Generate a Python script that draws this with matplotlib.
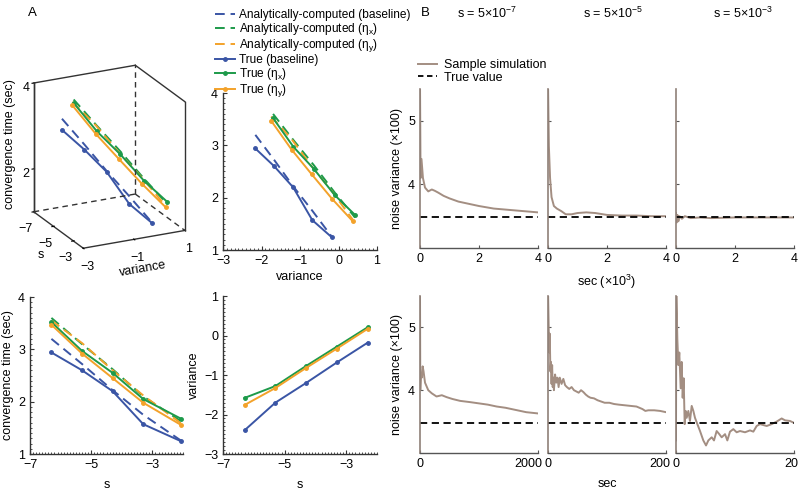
import matplotlib
matplotlib.use("Agg")
import matplotlib.pyplot as plt
import matplotlib.transforms as mtrans
import numpy as np
from matplotlib.lines import Line2D
from matplotlib.ticker import MultipleLocator

plt.rcParams['font.family'] = ['Liberation Sans', 'DejaVu Sans']
plt.rcParams['mathtext.fontset'] = 'custom'
plt.rcParams['mathtext.rm'] = 'Liberation Sans'
plt.rcParams['mathtext.it'] = 'Liberation Sans:italic'
plt.rcParams['font.size'] = 8.5

# ---------------- data: panel A ----------------
s_vals = [-6.3, -5.3, -4.3, -3.3, -2.3]          # s positions (variance-vs-s, 3D)
s_vals_time = [-6.3, -5.3, -4.3, -3.3, -2.05]    # s positions as drawn in time-vs-s
# convergence time (sec)
time_true_base = [2.94, 2.60, 2.20, 1.57, 1.24]
time_true_x = [3.52, 2.97, 2.55, 2.05, 1.67]
time_true_y = [3.47, 2.92, 2.45, 1.98, 1.55]
time_ana_base = [3.20, 2.72, 2.22, 1.75, 1.25]
time_ana_x = [3.60, 3.10, 2.62, 2.10, 1.62]
time_ana_y = [3.55, 3.12, 2.60, 2.12, 1.58]
# variance (as in the variance-vs-s panel)
var_true_base = [-2.40, -1.70, -1.20, -0.68, -0.18]
var_true_x = [-1.58, -1.28, -0.77, -0.28, 0.21]
var_true_y = [-1.76, -1.33, -0.82, -0.33, 0.17]
# variance (as in the time-vs-variance panel and the 3D panel)
var_tv_base = [-2.16, -1.67, -1.18, -0.68, -0.17]
var_tv_x = [-1.70, -1.17, -0.64, -0.10, 0.43]
var_tv_y = [-1.75, -1.22, -0.70, -0.17, 0.37]

# ---------------- data: panel B ----------------
true_value = 3.48
titles_B = ['s = 5×10$^{-7}$', 's = 5×10$^{-5}$', 's = 5×10$^{-3}$']
# long runs (sec x 10^3)
long1_t = [0, 0.02, 0.05, 0.1, 0.17, 0.28, 0.4, 0.5, 0.62, 0.8, 1.0, 1.3, 1.6, 2.0, 2.5, 3.0, 3.5, 4.0]
long1_v = [5.6, 4.1, 4.4, 4.1, 3.95, 3.89, 3.92, 3.9, 3.87, 3.82, 3.78, 3.73, 3.70, 3.66, 3.62, 3.60, 3.58, 3.56]
long2_t = [0, 0.03, 0.07, 0.12, 0.2, 0.3, 0.45, 0.6, 0.8, 1.0, 1.3, 1.6, 2.0, 2.5, 3.0, 3.5, 4.0]
long2_v = [5.6, 4.6, 4.1, 3.8, 3.66, 3.62, 3.58, 3.53, 3.53, 3.55, 3.56, 3.55, 3.52, 3.51, 3.51, 3.50, 3.50]
long3_t = [0, 0.02, 0.05, 0.08, 0.12, 0.2, 0.3, 0.5, 0.8, 1.2, 2.0, 3.0, 4.0]
long3_v = [3.55, 3.40, 3.52, 3.42, 3.50, 3.46, 3.50, 3.47, 3.48, 3.47, 3.48, 3.48, 3.48]
# short runs (sec)
short1_t = [0, 5, 15, 30, 45, 60, 85, 140, 200, 280, 370, 450, 550, 680, 850, 1000, 1150, 1300, 1450, 1600, 1800, 2000]
short1_v = [5.6, 4.0, 4.25, 4.2, 4.38, 4.3, 4.12, 4.0, 3.95, 3.9, 3.92, 3.89, 3.86, 3.83, 3.81, 3.79, 3.77, 3.74, 3.72, 3.69, 3.65, 3.63]
short2_t = [0, 1, 2, 3, 4, 5, 6, 7, 8, 9, 10, 12, 14, 16, 18, 20, 23, 26, 29, 32, 36, 40, 44, 48, 52, 56, 60, 64, 68, 72, 78, 84, 90, 96, 104, 112, 120, 130, 140, 150, 160, 165, 170, 180, 190, 200]
short2_v = [5.6, 5.1, 4.6, 4.9, 4.3, 4.45, 4.1, 4.4, 4.05, 4.2, 4.0, 4.25, 4.12, 4.2, 4.05, 4.2, 4.1, 4.18, 4.08, 4.05, 4.02, 4.05, 4.0, 3.98, 3.96, 4.0, 3.97, 3.93, 3.9, 3.88, 3.87, 3.84, 3.82, 3.8, 3.8, 3.78, 3.77, 3.76, 3.75, 3.74, 3.7, 3.67, 3.68, 3.68, 3.67, 3.65]
short3_t = [0, 0.05, 0.23, 0.4, 0.56, 0.79, 0.96, 1.13, 1.3, 1.47, 1.64, 1.81, 2.09, 2.37, 2.66, 2.94, 3.22, 3.62, 4.07, 4.63, 5.09, 5.48, 6.05, 6.44, 6.89, 7.34, 7.74, 8.31, 8.7, 9.15, 9.72, 10.28, 10.85, 11.7, 12.54, 13.11, 13.67, 14.24, 15.37, 16.22, 17.06, 17.91, 18.48, 19.32, 20]
short3_v = [3.2, 5.6, 4.81, 4.4, 4.6, 4.03, 4.45, 3.88, 4.19, 3.46, 3.67, 3.56, 3.67, 3.51, 3.75, 3.67, 3.56, 3.46, 3.35, 3.2, 3.12, 3.2, 3.25, 3.2, 3.35, 3.3, 3.25, 3.3, 3.2, 3.34, 3.38, 3.33, 3.35, 3.33, 3.36, 3.34, 3.43, 3.46, 3.43, 3.46, 3.5, 3.55, 3.52, 3.51, 3.48]

C_BLUE = '#3a55a5'
C_GREEN = '#1d9a4a'
C_ORANGE = '#f3a22a'
C_BROWN = '#a38e82'
C_AX = '#333333'

fig = plt.figure(figsize=(8, 4.9), dpi=100)

def W(px):
    return px / 800.0

def H(px):
    return px / 490.0

def add_ax(l, t, r, b, **kw):
    return fig.add_axes([W(l), 1 - H(b), W(r - l), H(b - t)], **kw)

series = [
    ('ana', 'base', C_BLUE), ('ana', 'x', C_GREEN), ('ana', 'y', C_ORANGE),
    ('true', 'base', C_BLUE), ('true', 'x', C_GREEN), ('true', 'y', C_ORANGE),
]
time_d = {('true', 'base'): time_true_base, ('true', 'x'): time_true_x, ('true', 'y'): time_true_y,
          ('ana', 'base'): time_ana_base, ('ana', 'x'): time_ana_x, ('ana', 'y'): time_ana_y}
var_vs = {'base': var_true_base, 'x': var_true_x, 'y': var_true_y}
var_tv = {'base': var_tv_base, 'x': var_tv_x, 'y': var_tv_y}

def style(kind, c):
    if kind == 'ana':
        return dict(color=c, ls=(0, (5, 3)), lw=1.4)
    return dict(color=c, ls='-', lw=1.4, marker='o', ms=2.5)

def style2d(ax):
    for sp in ['top', 'right']:
        ax.spines[sp].set_visible(False)
    for sp in ['left', 'bottom']:
        ax.spines[sp].set_color(C_AX)
        ax.spines[sp].set_linewidth(1.0)
    ax.tick_params(which='both', direction='in', colors=C_AX, labelcolor='black', labelsize=9)
    ax.tick_params(which='major', length=3, width=0.8)
    ax.tick_params(which='minor', length=1.5, width=0.6)

# ---- top middle: time vs variance
ax_tv = add_ax(223, 93, 377, 250)
for kind, key, c in series:
    ax_tv.plot(var_tv[key], time_d[(kind, key)], **style(kind, c))
ax_tv.set_xlim(-3, 1)
ax_tv.set_ylim(1, 4)
ax_tv.set_xticks([-3, -2, -1, 0, 1])
ax_tv.set_yticks([1, 2, 3, 4])
ax_tv.xaxis.set_minor_locator(MultipleLocator(0.1))
ax_tv.yaxis.set_minor_locator(MultipleLocator(0.1))
ax_tv.set_xlabel('variance', fontsize=9, labelpad=3)
ax_tv.set_ylabel('convergence time (sec)', fontsize=9, labelpad=3)
style2d(ax_tv)

# ---- bottom left: time vs s
ax_ts = add_ax(30, 297, 183, 454)
for kind, key, c in series:
    ax_ts.plot(s_vals_time, time_d[(kind, key)], **style(kind, c))
ax_ts.set_xlim(-7, -2)
ax_ts.set_ylim(1, 4)
ax_ts.set_xticks([-7, -5, -3])
ax_ts.set_yticks([1, 2, 3, 4])
ax_ts.xaxis.set_minor_locator(MultipleLocator(0.1))
ax_ts.yaxis.set_minor_locator(MultipleLocator(0.1))
ax_ts.set_xlabel('s', fontsize=9, labelpad=6)
ax_ts.set_ylabel('convergence time (sec)', fontsize=9, labelpad=3)
style2d(ax_ts)

# ---- bottom middle: variance vs s
ax_vs = add_ax(223, 296, 377, 454)
for kind, key, c in series:
    if kind == 'true':
        ax_vs.plot(s_vals, var_vs[key], **style(kind, c))
ax_vs.set_xlim(-7, -2)
ax_vs.set_ylim(-3, 1)
ax_vs.set_xticks([-7, -5, -3])
ax_vs.set_yticks([-3, -2, -1, 0, 1])
ax_vs.xaxis.set_minor_locator(MultipleLocator(0.1))
ax_vs.yaxis.set_minor_locator(MultipleLocator(0.1))
ax_vs.set_xlabel('s', fontsize=9, labelpad=6)
ax_vs.set_ylabel('variance', fontsize=9, labelpad=3)
style2d(ax_vs)

# ---- 3D panel
ax3 = fig.add_axes([W(3), 1 - H(262), W(207), H(205)], projection='3d')
ax3.set_proj_type('ortho')
ax3.view_init(elev=21, azim=-26)
ax3.set_box_aspect((1, 1, 1.22))
for kind, key, c in series:
    ax3.plot(s_vals, var_tv[key], time_d[(kind, key)], **style(kind, c))
ax3.set_xlim(-7, -2)
ax3.set_ylim(-3, 1)
ax3.set_zlim(1, 4)
ax3.set_xticks([-7, -5, -3])
ax3.set_yticks([-3, -1, 1])
ax3.set_zticks([2, 4])
ax3.grid(False)
for a in (ax3.xaxis, ax3.yaxis, ax3.zaxis):
    a.set_pane_color((1, 1, 1, 0))
    a.line.set_color(C_AX)
    a.line.set_linewidth(1.0)
ax3.zaxis.set_ticks_position('lower')
ax3.zaxis.set_label_position('lower')
ax3.tick_params(axis='x', labelsize=9, pad=-2)
ax3.tick_params(axis='y', labelsize=9, pad=-2)
ax3.tick_params(axis='z', labelsize=9, pad=-4)
ax3.set_xlabel('s', fontsize=9, labelpad=-8)
ax3.set_ylabel('variance', fontsize=9, labelpad=-7)
ax3.set_zlabel('convergence time (sec)', fontsize=9, labelpad=-9)
x0, x1 = ax3.get_xlim(); y0, y1 = ax3.get_ylim(); z0, z1 = ax3.get_zlim()
edge = dict(color=C_AX, lw=1.0)
ax3.plot([x0, x0], [y0, y1], [z1, z1], **edge)
ax3.plot([x0, x1], [y1, y1], [z1, z1], **edge)
ax3.plot([x1, x1], [y1, y1], [z0, z1], **edge)
ax3.plot([x0, x0], [y0, y0], [z0, z1], **edge)
dash = dict(color=C_AX, lw=1.0, ls=(0, (4, 3)))
ax3.plot([x0, x0], [y1, y1], [z0, z1], **dash)
ax3.plot([x0, x0], [y0, y1], [z0, z0], **dash)
ax3.plot([x0, x1], [y1, y1], [z0, z0], **dash)

# ---- legend A
handles_A = [
    Line2D([], [], **style('ana', C_BLUE)), Line2D([], [], **style('ana', C_GREEN)),
    Line2D([], [], **style('ana', C_ORANGE)), Line2D([], [], **style('true', C_BLUE)),
    Line2D([], [], **style('true', C_GREEN)), Line2D([], [], **style('true', C_ORANGE)),
]
labels_A = ['Analytically-computed (baseline)', 'Analytically-computed (η$_\\mathregular{x}$)',
            'Analytically-computed (η$_\\mathregular{y}$)', 'True (baseline)',
            'True (η$_\\mathregular{x}$)', 'True (η$_\\mathregular{y}$)']
fig.legend(handles_A, labels_A, loc='upper left', bbox_to_anchor=(W(215), 1 - H(9)),
           frameon=False, fontsize=8.6, handlelength=1.7, handletextpad=0.35,
           labelspacing=0.0, borderpad=0, borderaxespad=0)

# ---- panel B
long_runs = [(long1_t, long1_v), (long2_t, long2_v), (long3_t, long3_v)]
short_runs = [(short1_t, short1_v), (short2_t, short2_v), (short3_t, short3_v)]
short_xmax = [2000, 200, 20]
lefts = [420, 548, 676]

def styleB(ax, first):
    for sp in ['top', 'right']:
        ax.spines[sp].set_visible(False)
    ax.spines['left'].set_color('#8f8078')
    ax.spines['left'].set_linewidth(1.2)
    ax.spines['bottom'].set_color('#555555')
    ax.spines['bottom'].set_linewidth(1.0)
    ax.tick_params(direction='in', length=2, width=0.8, colors='#555555', labelcolor='black', labelsize=9)
    ax.set_ylim(3, 5.5)
    ax.set_yticks([4, 5])
    if not first:
        ax.set_yticklabels([])

axes_top = []
for i in range(3):
    ax = add_ax(lefts[i], 89, lefts[i] + 118, 248)
    t, v = long_runs[i]
    ax.plot(t, v, color=C_BROWN, lw=1.4, clip_on=True)
    ax.axhline(true_value, color='black', lw=1.3, ls=(0, (4, 2.5)))
    ax.set_xlim(0, 4)
    ax.set_xticks([0, 2, 4])
    styleB(ax, i == 0)
    axes_top.append(ax)
axes_top[0].set_ylabel('noise variance (×100)', fontsize=9, labelpad=4)
axes_top[1].set_xlabel('sec (×10$^{3}$)', fontsize=9, labelpad=6)

axes_bot = []
for i in range(3):
    ax = add_ax(lefts[i], 296, lefts[i] + 118, 453)
    t, v = short_runs[i]
    ax.plot(t, v, color=C_BROWN, lw=1.4)
    ax.axhline(true_value, color='black', lw=1.3, ls=(0, (4, 2.5)))
    ax.set_xlim(0, short_xmax[i])
    ax.set_xticks([0, short_xmax[i]])
    styleB(ax, i == 0)
    lab = ax.get_xticklabels()[-1]
    lab.set_horizontalalignment('right')
    lab.set_transform(lab.get_transform() + mtrans.ScaledTranslation(3 / 72, 0, fig.dpi_scale_trans))
    axes_bot.append(ax)
axes_bot[0].set_ylabel('noise variance (×100)', fontsize=9, labelpad=4)
axes_bot[1].set_xlabel('sec', fontsize=9, labelpad=6)

for i in range(3):
    fig.text(W([487, 613, 743][i]), 1 - H(13), titles_B[i], ha='center', va='center', fontsize=9)

handles_B = [Line2D([], [], color=C_BROWN, lw=1.4),
             Line2D([], [], color='black', lw=1.3, ls=(0, (3, 2)))]
fig.legend(handles_B, ['Sample simulation', 'True value'], loc='upper left',
           bbox_to_anchor=(W(418), 1 - H(59)), frameon=False, fontsize=9,
           handlelength=1.5, handletextpad=0.6, labelspacing=0.05, borderpad=0, borderaxespad=0)

fig.text(W(32), 1 - H(13), 'A', ha='center', va='center', fontsize=9.5)
fig.text(W(425), 1 - H(13), 'B', ha='center', va='center', fontsize=9.5)

fig.savefig('out.png', dpi=100)
